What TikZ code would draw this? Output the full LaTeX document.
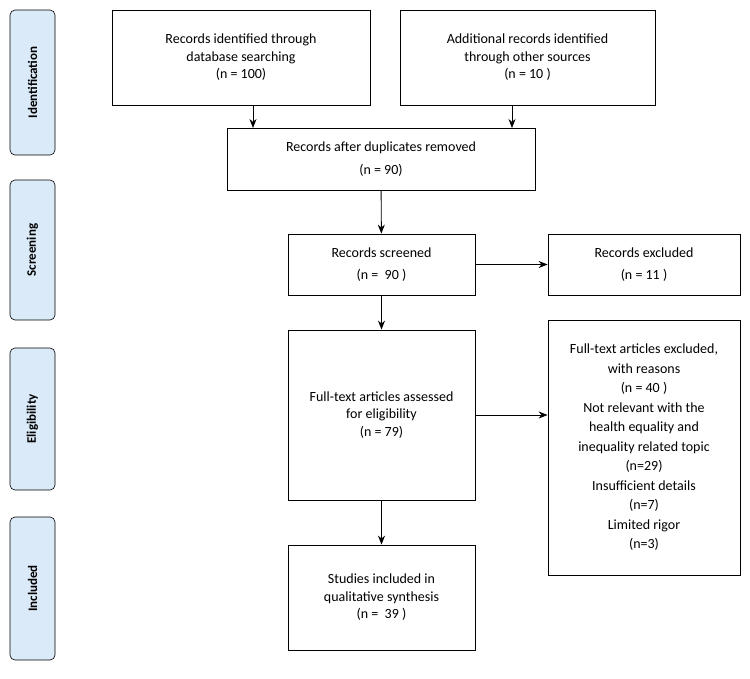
\documentclass[tikz,border=0pt]{standalone}
\usepackage{fontspec}
\setmainfont{Carlito}
\usetikzlibrary{arrows.meta}
\definecolor{sideblue}{RGB}{218,234,248}
\begin{document}
\begin{tikzpicture}[x=1pt,y=-1pt,
  box/.style={draw,line width=0.8pt,align=center,font=\fontsize{14}{17.5}\selectfont,inner sep=2pt},
  side/.style={draw,fill=sideblue,rounded corners=5pt,line width=0.6pt},
  stxt/.style={rotate=90,font=\bfseries\fontsize{13}{15}\selectfont},
  arr/.style={-{Stealth[length=9pt,width=7pt]},line width=0.9pt}]
\useasboundingbox (0,0) rectangle (750,678);
\foreach \n/\a/\b/\t in {s1/10/155/Identification,s2/180/320/Screening,s3/348/490/Eligibility,s4/517/660/Included}{
  \draw[side] (10,\a) rectangle (55,\b);
  \node[stxt] (\n) at (32.5,{(\a+\b)/2}) {\t};
}
\node[box,minimum width=258,minimum height=95] (b1) at (241,57.5) {Records identified through\\database searching\\(n = 100)};
\node[box,minimum width=255,minimum height=95] (b2) at (527.5,57.5) {Additional records identified\\through other sources\\(n = 10 )};
\node[box,minimum width=308,minimum height=62] (b3) at (381,159) {Records after duplicates removed\\[6pt](n = 90)};
\node[box,minimum width=187,minimum height=61] (b4) at (381.5,264.5) {Records screened\\[4pt](n =~ 90 )};
\node[box,minimum width=192,minimum height=61] (b5) at (644,264.5) {Records excluded\\[4pt](n = 11 )};
\node[box,minimum width=187,minimum height=170] (b6) at (381.5,415) {Full-text articles assessed\\for eligibility\\(n = 79)};
\node[box,minimum width=192,minimum height=255,font=\fontsize{14}{19.5}\selectfont] (b7) at (644,447.5) {Full-text articles excluded,\\with reasons\\(n = 40 )\\Not relevant with the\\health equality and\\inequality related topic\\(n=29)\\Insufficient details\\(n=7)\\Limited rigor\\(n=3)};
\node[box,minimum width=187,minimum height=105] (b8) at (381.5,597.5) {Studies included in\\qualitative synthesis\\(n =~ 39 )};
\draw[arr] (b1.south -| 253,0) -- (253,128);
\draw[arr] (b2.south -| 512,0) -- (512,128);
\draw[arr] (b3) -- (b4);
\draw[arr] (b4) -- (b5);
\draw[arr] (b4) -- (b6);
\draw[arr] (b6.east) -- (b7.west |- b6.east);
\draw[arr] (b6) -- (b8);
\end{tikzpicture}
\end{document}
